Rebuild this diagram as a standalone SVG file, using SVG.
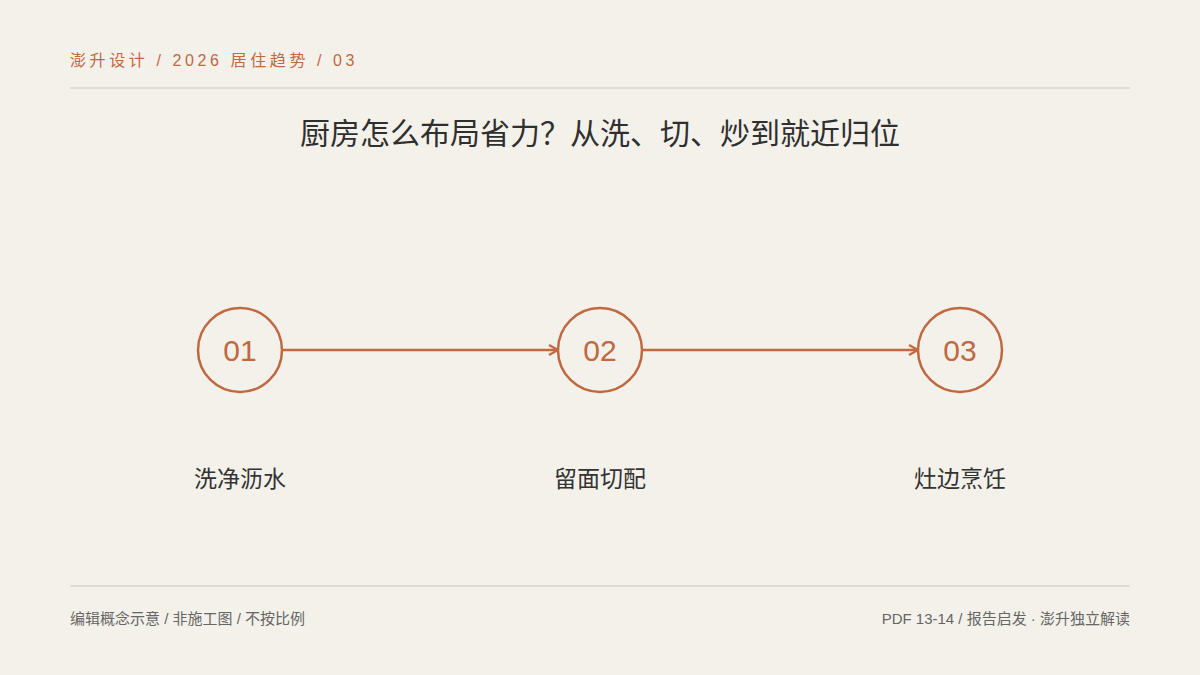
<svg xmlns="http://www.w3.org/2000/svg" width="1200" height="675" viewBox="0 0 1200 675">
<style>
.hdr{font-family:"Liberation Sans","Noto Sans CJK SC",sans-serif;font-size:16px;fill:#C0683F;letter-spacing:3.6px}
.ttl{font-family:"Liberation Sans","Noto Sans CJK SC",sans-serif;font-size:30px;fill:#2F2F2F}
.num{font-family:"Liberation Sans","Noto Sans CJK SC",sans-serif;font-size:30px;fill:#C0683F}
.lbl{font-family:"Liberation Sans","Noto Sans CJK SC",sans-serif;font-size:23px;fill:#333}
.ftr{font-family:"Liberation Sans","Noto Sans CJK SC",sans-serif;font-size:15px;fill:#666}
.ring{fill:none;stroke:#C0683F;stroke-width:2.5}
.conn{stroke:#C0683F;stroke-width:2.5;fill:none}
.rule{stroke:#E0DCD4;stroke-width:2}
</style>
<defs>
<marker id="arr" viewBox="0 0 12 12" refX="11" refY="6" markerWidth="12" markerHeight="12" markerUnits="userSpaceOnUse" orient="auto">
<path d="M2,1 L11,6 L2,11" fill="none" stroke="#C0683F" stroke-width="2.2"/>
</marker>
</defs>
<rect width="1200" height="675" fill="#F4F1EA"/>
<text class="hdr" x="70" y="66">澎升设计 / 2026 居住趋势 / 03</text>
<line class="rule" x1="70" y1="88" x2="1130" y2="88"/>
<text class="ttl" x="600" y="144" text-anchor="middle">厨房怎么布局省力？从洗、切、炒到就近归位</text>
<g id="connectors">
<line class="conn" x1="282" y1="350" x2="558" y2="350" marker-end="url(#arr)"/>
<line class="conn" x1="642" y1="350" x2="918" y2="350" marker-end="url(#arr)"/>
</g>
<g id="n1">
<circle class="ring" cx="240" cy="350" r="42"/>
<text class="num" x="240" y="361" text-anchor="middle">01</text>
<text class="lbl" x="240" y="487" text-anchor="middle">洗净沥水</text>
</g>
<g id="n2">
<circle class="ring" cx="600" cy="350" r="42"/>
<text class="num" x="600" y="361" text-anchor="middle">02</text>
<text class="lbl" x="600" y="487" text-anchor="middle">留面切配</text>
</g>
<g id="n3">
<circle class="ring" cx="960" cy="350" r="42"/>
<text class="num" x="960" y="361" text-anchor="middle">03</text>
<text class="lbl" x="960" y="487" text-anchor="middle">灶边烹饪</text>
</g>
<line class="rule" x1="70" y1="586" x2="1130" y2="586"/>
<text class="ftr" x="70" y="624">编辑概念示意 / 非施工图 / 不按比例</text>
<text class="ftr" x="1130" y="624" text-anchor="end">PDF 13-14 / 报告启发 · 澎升独立解读</text>
</svg>
